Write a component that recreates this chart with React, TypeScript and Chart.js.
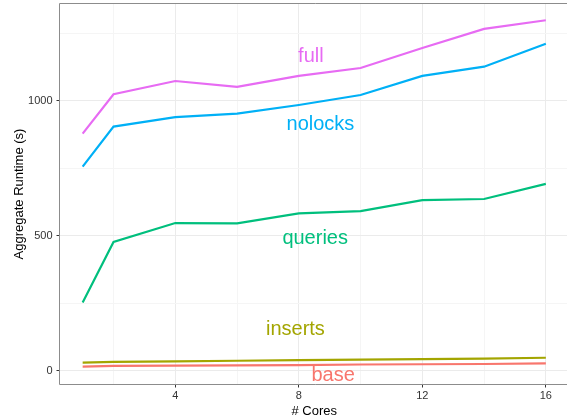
import React, { useEffect, useRef } from "react";
import { Chart, registerables } from "chart.js";

Chart.register(...registerables);

const cores = [1, 2, 4, 6, 8, 10, 12, 14, 16];
const baseRuntime = [16, 19, 20, 21, 22, 24, 25, 26, 28];
const insertsRuntime = [31, 34, 36, 38, 40, 42, 44, 46, 49];
const queriesRuntime = [254, 478, 548, 547, 584, 592, 633, 637, 693];
const nolocksRuntime = [757, 905, 940, 953, 985, 1022, 1093, 1127, 1212];
const fullRuntime = [879, 1025, 1074, 1052, 1093, 1122, 1196, 1267, 1299];

const seriesNames = ["base", "inserts", "queries", "nolocks", "full"];
const seriesColors = ["#F8766D", "#A3A500", "#00BF7D", "#00B0F6", "#E76BF3"];
const seriesValues = [baseRuntime, insertsRuntime, queriesRuntime, nolocksRuntime, fullRuntime];

// in-plot text labels (data coordinates, baseline anchored)
const labelX = [9.11, 7.89, 8.53, 8.7, 8.39];
const labelY = [-36, 133, 470, 893, 1144];

const xMajorTicks = [4, 8, 12, 16];
const xMinorTicks = [2, 6, 10, 14];
const yMajorTicks = [0, 500, 1000];
const yMinorTicks = [250, 750, 1250];

const frameLeft = 59.5;
const frameTop = 3.5;
const frameBottom = 384.5;

const framePlugin = {
  id: "frame",
  afterDraw(chart: any) {
    const { ctx, chartArea, scales } = chart;
    ctx.save();
    ctx.strokeStyle = "#8c8c8c";
    ctx.lineWidth = 1;
    ctx.beginPath();
    ctx.moveTo(chartArea.right + 2, chartArea.top);
    ctx.lineTo(chartArea.left, chartArea.top);
    ctx.lineTo(chartArea.left, chartArea.bottom);
    ctx.lineTo(chartArea.right + 2, chartArea.bottom);
    ctx.stroke();
    ctx.font = "20px 'Liberation Sans', Arial, sans-serif";
    ctx.textAlign = "center";
    ctx.textBaseline = "alphabetic";
    seriesNames.forEach((name, i) => {
      ctx.fillStyle = seriesColors[i];
      ctx.fillText(name, scales.x.getPixelForValue(labelX[i]), scales.y.getPixelForValue(labelY[i]));
    });
    ctx.restore();
  },
};

export default function App() {
  const ref = useRef<HTMLCanvasElement | null>(null);
  useEffect(() => {
    if (!ref.current) return;
    const chart = new Chart(ref.current, {
      type: "line",
      data: {
        datasets: seriesNames.map((name, i) => ({
          label: name,
          data: cores.map((c, j) => ({ x: c, y: seriesValues[i][j] })),
          borderColor: seriesColors[i],
          backgroundColor: seriesColors[i],
          borderWidth: 2.2,
          pointRadius: 0,
          tension: 0,
        })),
      },
      options: {
        responsive: false,
        animation: false,
        layout: { padding: { left: 0, right: 2, top: frameTop, bottom: 0 } },
        plugins: { legend: { display: false }, tooltip: { enabled: false } },
        scales: {
          x: {
            type: "linear",
            min: 0.25,
            max: 16.75,
            afterBuildTicks: (s: any) => {
              s.ticks = [...xMinorTicks, ...xMajorTicks].sort((a, b) => a - b).map((v) => ({ value: v }));
            },
            afterFit: (s: any) => {
              s.height = 417 - frameBottom;
              s.paddingLeft = 0;
              s.paddingRight = 0;
            },
            ticks: {
              autoSkip: false,
              maxRotation: 0,
              padding: 2,
              color: "#333333",
              font: { family: "'Liberation Sans', Arial, sans-serif", size: 11 },
              callback: (v: any) => (xMajorTicks.includes(Number(v)) ? String(v) : ""),
            },
            grid: {
              color: (c: any) => (xMajorTicks.includes(c.tick?.value) ? "#ebebeb" : "#f5f5f5"),
              tickColor: (c: any) => (xMajorTicks.includes(c.tick?.value) ? "#333333" : "rgba(0,0,0,0)"),
              tickLength: 3,
              lineWidth: 1,
            },
            border: { display: false },
            title: {
              display: true,
              text: "# Cores",
              color: "#000000",
              font: { family: "'Liberation Sans', Arial, sans-serif", size: 13 },
              padding: { top: 0, bottom: -2 },
            },
          },
          y: {
            type: "linear",
            min: -50,
            max: 1361,
            afterBuildTicks: (s: any) => {
              s.ticks = [...yMajorTicks, ...yMinorTicks].sort((a, b) => a - b).map((v) => ({ value: v }));
            },
            afterFit: (s: any) => {
              s.width = frameLeft;
              s.paddingTop = 0;
              s.paddingBottom = 0;
            },
            ticks: {
              autoSkip: false,
              padding: 4,
              color: "#333333",
              font: { family: "'Liberation Sans', Arial, sans-serif", size: 11 },
              callback: (v: any) => (yMajorTicks.includes(Number(v)) ? String(v) : ""),
            },
            grid: {
              color: (c: any) => (yMajorTicks.includes(c.tick?.value) ? "#ebebeb" : "#f5f5f5"),
              tickColor: (c: any) => (yMajorTicks.includes(c.tick?.value) ? "#333333" : "rgba(0,0,0,0)"),
              tickLength: 3,
              lineWidth: 1,
            },
            border: { display: false },
            title: {
              display: true,
              text: "Aggregate Runtime (s)",
              color: "#000000",
              font: { family: "'Liberation Sans', Arial, sans-serif", size: 13 },
              padding: { top: 12, bottom: 0 },
            },
          },
        },
      },
      plugins: [framePlugin],
    });
    return () => chart.destroy();
  }, []);
  return (
    <div style={{ position: "fixed", left: 0, top: 0, width: 567, height: 417, overflow: "hidden", background: "#fff" }}>
      <canvas ref={ref} width={571} height={417} style={{ display: "block", width: 571, height: 417 }} />
    </div>
  );
}
